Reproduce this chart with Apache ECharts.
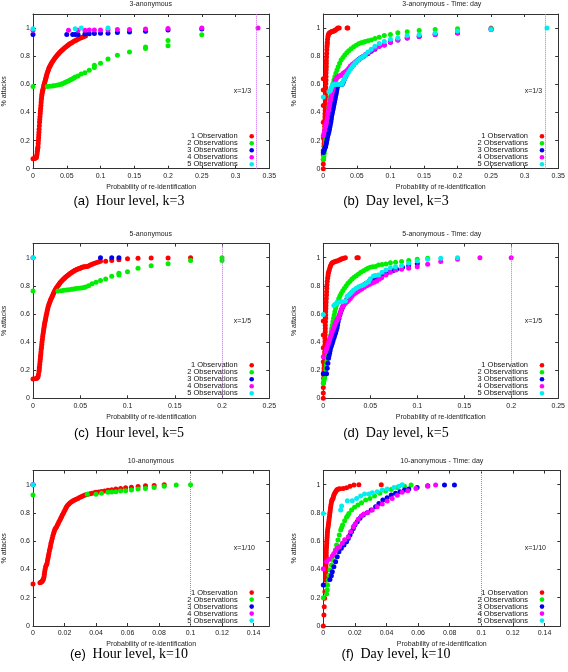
<!DOCTYPE html>
<html><head><meta charset="utf-8">
<script src="https://cdn.jsdelivr.net/npm/echarts@6/dist/echarts.min.js"></script>
<style>html,body{margin:0;padding:0;background:#fff}#c{width:568px;height:672px}</style>
</head><body><div id="c"></div>
<script>
const seriesNames = ['1 Observation','2 Observations','3 Observations','4 Observations','5 Observations'];
const colors = ['#ff0000','#00ee00','#0000ee','#ff00ff','#00eeee'];
const titles = ['3-anonymous','3-anonymous - Time: day','5-anonymous','5-anonymous - Time: day','10-anonymous','10-anonymous - Time: day'];
const captionTags = ['(a)','(b)','(c)','(d)','(e)','(f)'];
const captionTexts = ['Hour level, k=3','Day level, k=3','Hour level, k=5','Day level, k=5','Hour level, k=10','Day level, k=10'];
const xMax = [0.35,0.35,0.25,0.25,0.15,0.15];
const xInterval = [0.05,0.05,0.05,0.05,0.02,0.02];
const kLine = [1/3,1/3,1/5,1/5,1/10,1/10];
const kLabel = ['x=1/3','x=1/3','x=1/5','x=1/5','x=1/10','x=1/10'];
const yTicks = [0,0.2,0.4,0.6,0.8,1];

// (a) 3-anonymous, hour level
const a1 = [[0,0.071],[0.002,0.072],[0.003,0.075],[0.004,0.077],[0.005,0.08],[0.0055,0.09],[0.006,0.105],[0.0063,0.12],[0.0067,0.135],[0.007,0.145],[0.0074,0.156],[0.0077,0.18],[0.008,0.2],[0.0083,0.22],[0.0085,0.24],[0.0088,0.26],[0.009,0.28],[0.0094,0.305],[0.0097,0.33],[0.01,0.35],[0.0103,0.37],[0.0107,0.39],[0.011,0.41],[0.0113,0.43],[0.0117,0.45],[0.012,0.47],[0.0123,0.49],[0.0127,0.505],[0.013,0.52],[0.0134,0.533],[0.0138,0.545],[0.0143,0.555],[0.0148,0.565],[0.0154,0.578],[0.016,0.59],[0.0166,0.6],[0.0172,0.61],[0.0178,0.622],[0.0185,0.635],[0.0191,0.645],[0.0197,0.655],[0.0203,0.667],[0.021,0.678],[0.0218,0.69],[0.0226,0.70],[0.0233,0.71],[0.024,0.72],[0.025,0.729],[0.026,0.737],[0.027,0.746],[0.028,0.755],[0.0295,0.766],[0.031,0.777],[0.0325,0.787],[0.034,0.796],[0.0355,0.805],[0.037,0.813],[0.0385,0.821],[0.040,0.829],[0.0417,0.837],[0.0433,0.844],[0.045,0.852],[0.047,0.86],[0.049,0.867],[0.0507,0.874],[0.0523,0.88],[0.054,0.886],[0.056,0.892],[0.058,0.898],[0.06,0.904],[0.062,0.909],[0.0638,0.914],[0.0655,0.919],[0.067,0.923],[0.069,0.927],[0.071,0.931],[0.0729,0.934],[0.075,0.938],[0.0778,0.943]];
const a2 = [[0,0.585],[0.0212,0.585],[0.025,0.586],[0.029,0.588],[0.031,0.59],[0.035,0.593],[0.0384,0.597],[0.0415,0.600],[0.0433,0.604],[0.046,0.609],[0.048,0.614],[0.0505,0.62],[0.053,0.626],[0.0555,0.632],[0.058,0.637],[0.0605,0.645],[0.0625,0.652],[0.0667,0.66],[0.0714,0.673],[0.0769,0.682],[0.0833,0.70],[0.0909,0.72],[0.0909,0.735],[0.1,0.749],[0.1111,0.78],[0.125,0.806],[0.1429,0.829],[0.1667,0.855],[0.1667,0.865],[0.2,0.874],[0.2,0.912],[0.25,0.953]];
const a3 = [[0,0.955],[0.05,0.955],[0.0588,0.955],[0.0625,0.955],[0.0667,0.955],[0.0769,0.958],[0.0833,0.96],[0.0909,0.962],[0.1,0.963],[0.1111,0.964],[0.125,0.968],[0.1429,0.972],[0.1667,0.978],[0.2,0.986],[0.25,0.993]];
const a4 = [[0,0.985],[0.0526,0.985],[0.0667,0.985],[0.0769,0.985],[0.0833,0.986],[0.0909,0.986],[0.1,0.987],[0.1111,0.987],[0.125,0.989],[0.1429,0.99],[0.1667,0.993],[0.2,0.997],[0.25,1.0],[0.3333,1.0]];
const a5 = [[0,0.995],[0.0625,0.995],[0.0714,1.0],[0.1111,1.0]];

// (b) 3-anonymous, day level
const b1 = [[0,0],[0,0.033],[0,0.066],[0,0.1],[0,0.13],[0.0005,0.12],[0.001,0.16],[0.0012,0.18],[0.0015,0.2],[0,0.22],[0.0016,0.225],[0.0018,0.25],[0.0019,0.275],[0.002,0.3],[0,0.33],[0.0022,0.325],[0.0025,0.35],[0.0025,0.37],[0.0025,0.39],[0.0028,0.415],[0.003,0.44],[0,0.45],[0.003,0.465],[0.003,0.49],[0.0033,0.512],[0.0035,0.535],[0,0.56],[0.0035,0.558],[0.0035,0.58],[0.0038,0.605],[0.004,0.63],[0,0.64],[0.004,0.655],[0.004,0.68],[0.0043,0.703],[0.0045,0.725],[0.0045,0.748],[0.0045,0.77],[0.0048,0.795],[0.005,0.82],[0.0053,0.845],[0.0055,0.867],[0.0058,0.884],[0.006,0.90],[0.0064,0.92],[0.0069,0.94],[0.0076,0.952],[0.0084,0.962],[0.0096,0.966],[0.0108,0.97],[0.012,0.973],[0.0133,0.976],[0.0145,0.978],[0.0158,0.98],[0.017,0.983],[0.0182,0.986],[0.02,0.993],[0.0217,1.0],[0.0237,1.0],[0.0355,1.0],[0.0365,1.0]];
const b2 = [[0,0.066],[0.0008,0.088],[0.0015,0.11],[0.002,0.133],[0.0025,0.156],[0.003,0.178],[0.0035,0.2],[0.004,0.225],[0.0045,0.25],[0.005,0.275],[0.0054,0.3],[0.0059,0.323],[0.0064,0.346],[0.0069,0.368],[0.0074,0.39],[0.0079,0.415],[0.0084,0.44],[0.0091,0.465],[0.0099,0.49],[0.0106,0.512],[0.0113,0.535],[0.0123,0.558],[0.0133,0.58],[0.0145,0.605],[0.0158,0.63],[0.0172,0.654],[0.0187,0.678],[0.0204,0.702],[0.0222,0.725],[0.0244,0.75],[0.0266,0.773],[0.0293,0.79],[0.032,0.808],[0.035,0.824],[0.038,0.839],[0.0415,0.853],[0.0453,0.867],[0.049,0.878],[0.0527,0.889],[0.0563,0.895],[0.06,0.90],[0.0625,0.905],[0.0667,0.91],[0.0714,0.915],[0.0769,0.925],[0.0833,0.935],[0.0909,0.947],[0.1,0.955],[0.1111,0.967],[0.125,0.973],[0.1429,0.983],[0.1667,0.989],[0.2,0.995],[0.25,1.0]];
const b3 = [[0,0.116],[0.001,0.13],[0.0022,0.143],[0.0034,0.156],[0.0042,0.173],[0.0049,0.19],[0.0057,0.208],[0.0064,0.227],[0.0074,0.245],[0.0084,0.263],[0.0092,0.281],[0.0099,0.3],[0.0106,0.317],[0.0113,0.334],[0.0118,0.352],[0.0123,0.37],[0.013,0.388],[0.0138,0.405],[0.0146,0.422],[0.0153,0.44],[0.016,0.458],[0.0168,0.476],[0.0175,0.494],[0.0182,0.512],[0.019,0.53],[0.0197,0.547],[0.0202,0.562],[0.0207,0.578],[0.0215,0.588],[0.0222,0.595],[0.024,0.598],[0.0256,0.6],[0.0268,0.6],[0.0281,0.6],[0.029,0.61],[0.03,0.62],[0.0315,0.637],[0.033,0.654],[0.0343,0.667],[0.0355,0.68],[0.0378,0.695],[0.04,0.71],[0.0425,0.725],[0.045,0.74],[0.0477,0.753],[0.0503,0.765],[0.0527,0.776],[0.055,0.786],[0.0575,0.793],[0.06,0.80],[0.0625,0.808],[0.0667,0.82],[0.0714,0.835],[0.0769,0.85],[0.0833,0.87],[0.0909,0.88],[0.1,0.9],[0.1111,0.915],[0.125,0.93],[0.1429,0.94],[0.1667,0.955],[0.2,0.965],[0.25,0.99]];
const b4 = [[0,0.235],[0.001,0.25],[0.0022,0.275],[0.0034,0.3],[0.0042,0.317],[0.0049,0.334],[0.0059,0.362],[0.0069,0.39],[0.0079,0.415],[0.0089,0.44],[0.0098,0.465],[0.0108,0.49],[0.0118,0.512],[0.0128,0.535],[0.0138,0.552],[0.0148,0.57],[0.0158,0.588],[0.0167,0.607],[0.0175,0.618],[0.0182,0.63],[0.0195,0.64],[0.0207,0.65],[0.0223,0.655],[0.024,0.66],[0.0258,0.663],[0.0276,0.666],[0.0288,0.673],[0.03,0.68],[0.0328,0.69],[0.0355,0.70],[0.038,0.715],[0.0404,0.73],[0.0434,0.742],[0.0463,0.754],[0.0495,0.766],[0.0527,0.777],[0.0563,0.789],[0.06,0.80],[0.0625,0.81],[0.0667,0.823],[0.0714,0.84],[0.0769,0.855],[0.0833,0.87],[0.0909,0.88],[0.1,0.9],[0.1111,0.915],[0.125,0.93],[0.1429,0.94],[0.1667,0.955],[0.2,0.965],[0.25,0.995]];
const b5 = [[0,0.51],[0.0084,0.547],[0.0096,0.553],[0.0108,0.56],[0.012,0.575],[0.0133,0.59],[0.0145,0.597],[0.0158,0.6],[0.0178,0.6],[0.0197,0.6],[0.0217,0.6],[0.0236,0.6],[0.0256,0.6],[0.0276,0.6],[0.029,0.615],[0.0305,0.63],[0.0318,0.642],[0.033,0.654],[0.0355,0.672],[0.038,0.69],[0.0404,0.708],[0.0428,0.725],[0.0453,0.74],[0.0478,0.754],[0.0514,0.77],[0.055,0.784],[0.0588,0.796],[0.0625,0.808],[0.0667,0.83],[0.0714,0.85],[0.0769,0.87],[0.0833,0.891],[0.0909,0.905],[0.1,0.92],[0.1111,0.93],[0.125,0.947],[0.1429,0.953],[0.1667,0.965],[0.2,0.98],[0.25,0.99],[0.3333,1.0]];

// (c) 5-anonymous, hour level
const c1 = [[0,0.137],[0.003,0.14],[0.0039,0.142],[0.0046,0.147],[0.0053,0.154],[0.0058,0.17],[0.0063,0.19],[0.0066,0.205],[0.0068,0.22],[0.0071,0.24],[0.0074,0.26],[0.0077,0.278],[0.0079,0.295],[0.0082,0.312],[0.0084,0.33],[0.0087,0.348],[0.009,0.365],[0.0093,0.383],[0.0095,0.40],[0.0099,0.42],[0.0102,0.44],[0.0106,0.457],[0.011,0.474],[0.0113,0.49],[0.0117,0.505],[0.012,0.52],[0.0123,0.533],[0.0128,0.547],[0.0132,0.56],[0.0136,0.575],[0.014,0.59],[0.0145,0.605],[0.015,0.62],[0.0155,0.635],[0.016,0.65],[0.0166,0.663],[0.0173,0.675],[0.018,0.688],[0.0186,0.70],[0.0193,0.71],[0.02,0.72],[0.0207,0.731],[0.0214,0.742],[0.022,0.751],[0.0227,0.76],[0.0233,0.768],[0.024,0.777],[0.0248,0.786],[0.0257,0.794],[0.0265,0.802],[0.0274,0.81],[0.0282,0.818],[0.029,0.825],[0.03,0.832],[0.031,0.839],[0.032,0.846],[0.033,0.852],[0.034,0.859],[0.035,0.865],[0.0362,0.871],[0.0374,0.877],[0.0385,0.883],[0.0397,0.889],[0.0408,0.894],[0.042,0.899],[0.043,0.904],[0.044,0.908],[0.0452,0.912],[0.0463,0.915],[0.0474,0.919],[0.0485,0.922],[0.0497,0.925],[0.051,0.928],[0.052,0.931],[0.053,0.934],[0.0543,0.935],[0.0556,0.936],[0.0571,0.938],[0.0588,0.94],[0.0606,0.947],[0.0625,0.953],[0.0645,0.958],[0.0667,0.964],[0.069,0.969],[0.0714,0.974],[0.0769,0.974],[0.0833,0.979],[0.0909,0.986],[0.1,0.993],[0.1111,0.995],[0.125,0.998],[0.1429,0.998],[0.1667,1.0]];
const c2 = [[0,0.763],[0.0264,0.763],[0.03,0.765],[0.0327,0.768],[0.0357,0.770],[0.038,0.772],[0.041,0.775],[0.043,0.777],[0.0455,0.780],[0.0485,0.782],[0.051,0.785],[0.0538,0.787],[0.0556,0.792],[0.0588,0.80],[0.0625,0.815],[0.0667,0.826],[0.0714,0.838],[0.0769,0.848],[0.0833,0.867],[0.0909,0.877],[0.0909,0.889],[0.1,0.9],[0.1111,0.924],[0.125,0.943],[0.1429,0.957],[0.1667,0.979],[0.2,0.979],[0.2,1.0]];
const c3 = [[0.0714,1.0],[0.0833,1.0],[0.0909,1.0]];
const c4 = [[0,1.0]];
const c5 = [[0,1.0]];

// (d) 5-anonymous, day level
const d1 = [[0,0],[0,0.038],[0,0.076],[0.0002,0.11],[0.0004,0.142],[0.0005,0.166],[0.0007,0.19],[0.0008,0.213],[0.001,0.237],[0,0.26],[0.0012,0.26],[0.0014,0.284],[0.0014,0.307],[0.0014,0.33],[0,0.36],[0.0016,0.355],[0.0018,0.38],[0.0018,0.403],[0.0018,0.427],[0,0.45],[0.002,0.45],[0.0021,0.474],[0.0021,0.497],[0.0021,0.52],[0,0.55],[0.0023,0.545],[0.0025,0.569],[0.0025,0.592],[0.0025,0.616],[0.0027,0.638],[0.0028,0.66],[0.003,0.685],[0.0032,0.71],[0.0034,0.734],[0.0035,0.758],[0.0037,0.782],[0.0039,0.806],[0.0042,0.83],[0.0046,0.853],[0.005,0.872],[0.0053,0.889],[0.0058,0.9],[0.0063,0.912],[0.007,0.928],[0.0077,0.943],[0.0086,0.955],[0.0095,0.964],[0.0107,0.968],[0.0119,0.971],[0.0133,0.974],[0.0147,0.976],[0.0165,0.981],[0.0178,0.986],[0.019,0.99],[0.0204,0.993],[0.0218,0.995],[0.0235,1.0],[0.0358,1.0],[0.0372,1.0]];
const d2 = [[0,0.107],[0.0007,0.125],[0.0014,0.142],[0.002,0.166],[0.0025,0.19],[0.0028,0.213],[0.0032,0.237],[0.0037,0.26],[0.0042,0.284],[0.0047,0.307],[0.0053,0.33],[0.0058,0.355],[0.0063,0.38],[0.0068,0.403],[0.0074,0.427],[0.0079,0.45],[0.0084,0.474],[0.0089,0.497],[0.0095,0.52],[0.0102,0.545],[0.0109,0.569],[0.0116,0.592],[0.0123,0.616],[0.0131,0.64],[0.014,0.664],[0.0152,0.687],[0.0165,0.71],[0.0177,0.728],[0.019,0.746],[0.0207,0.764],[0.0225,0.782],[0.0244,0.8],[0.0263,0.818],[0.0284,0.833],[0.0305,0.848],[0.0328,0.86],[0.035,0.872],[0.0375,0.884],[0.04,0.896],[0.0428,0.907],[0.0456,0.917],[0.0476,0.924],[0.05,0.931],[0.0526,0.935],[0.0556,0.938],[0.0588,0.948],[0.0625,0.952],[0.0667,0.955],[0.0714,0.964],[0.0769,0.968],[0.0833,0.972],[0.0909,0.979],[0.1,0.988],[0.1111,0.995]];
const d3 = [[0,0.175],[0.0035,0.175],[0.0042,0.213],[0.0049,0.249],[0.0056,0.284],[0.0061,0.302],[0.0067,0.32],[0.0072,0.338],[0.0077,0.355],[0.0086,0.372],[0.0095,0.39],[0.0103,0.408],[0.0112,0.427],[0.0121,0.445],[0.013,0.462],[0.0138,0.482],[0.0147,0.502],[0.0152,0.523],[0.0158,0.545],[0.0167,0.568],[0.0176,0.592],[0.0184,0.61],[0.0193,0.628],[0.0205,0.646],[0.0218,0.664],[0.0232,0.682],[0.0246,0.699],[0.0258,0.715],[0.027,0.73],[0.0288,0.741],[0.0305,0.751],[0.0328,0.76],[0.035,0.77],[0.0375,0.782],[0.04,0.794],[0.0428,0.806],[0.0456,0.818],[0.0486,0.83],[0.0516,0.841],[0.0543,0.85],[0.0569,0.858],[0.0604,0.87],[0.0639,0.882],[0.0674,0.891],[0.0709,0.9],[0.0745,0.909],[0.078,0.917],[0.0843,0.931],[0.0909,0.943],[0.1,0.957]];
const d4 = [[0,0.295],[0.0025,0.33],[0.0034,0.348],[0.0042,0.367],[0.0051,0.385],[0.006,0.403],[0.0068,0.42],[0.0077,0.438],[0.0086,0.456],[0.0095,0.474],[0.0103,0.488],[0.0112,0.502],[0.0121,0.518],[0.013,0.533],[0.0138,0.545],[0.0147,0.557],[0.0156,0.568],[0.0165,0.58],[0.0174,0.598],[0.0183,0.616],[0.0191,0.63],[0.02,0.645],[0.0209,0.655],[0.0218,0.664],[0.0235,0.676],[0.0253,0.687],[0.027,0.698],[0.0288,0.71],[0.0305,0.725],[0.0323,0.739],[0.0344,0.748],[0.0365,0.758],[0.0388,0.768],[0.041,0.777],[0.0437,0.789],[0.0463,0.80],[0.049,0.809],[0.0516,0.818],[0.0543,0.826],[0.0569,0.834],[0.0595,0.846],[0.0621,0.858],[0.0667,0.877],[0.0714,0.896],[0.0769,0.912],[0.0833,0.918],[0.0909,0.924],[0.1,0.936],[0.1111,0.953],[0.125,0.972],[0.1429,0.988],[0.1667,1.0],[0.2,1.0]];
const d5 = [[0,0.595],[0.0112,0.659],[0.013,0.67],[0.0147,0.68],[0.0175,0.684],[0.02,0.687],[0.0235,0.692],[0.0253,0.723],[0.027,0.735],[0.0288,0.746],[0.0305,0.758],[0.0323,0.77],[0.035,0.782],[0.0376,0.794],[0.0402,0.8],[0.0428,0.806],[0.0455,0.818],[0.0481,0.829],[0.05,0.85],[0.0534,0.87],[0.0556,0.874],[0.0588,0.877],[0.0625,0.896],[0.0667,0.912],[0.0714,0.929],[0.0769,0.936],[0.0833,0.943],[0.0909,0.96],[0.1,0.976],[0.1111,0.988],[0.125,0.995],[0.1429,1.0]];

// (e) 10-anonymous, hour level
const e1 = [[0,0.297],[0.0044,0.307],[0.005,0.31],[0.0055,0.314],[0.0059,0.318],[0.0063,0.325],[0.0067,0.335],[0.007,0.349],[0.0072,0.366],[0.0074,0.384],[0.0077,0.402],[0.008,0.42],[0.0085,0.432],[0.0089,0.443],[0.0092,0.461],[0.0095,0.479],[0.0098,0.497],[0.0101,0.514],[0.0104,0.532],[0.0108,0.55],[0.0111,0.567],[0.0114,0.585],[0.0118,0.602],[0.0122,0.62],[0.0126,0.638],[0.0131,0.656],[0.0135,0.67],[0.0139,0.684],[0.0144,0.694],[0.015,0.703],[0.0155,0.715],[0.016,0.726],[0.0165,0.738],[0.0171,0.75],[0.0176,0.762],[0.0181,0.774],[0.0186,0.786],[0.0192,0.797],[0.0197,0.809],[0.0203,0.821],[0.0208,0.833],[0.0213,0.844],[0.022,0.854],[0.0228,0.863],[0.0236,0.872],[0.0245,0.88],[0.0254,0.886],[0.0264,0.892],[0.0274,0.898],[0.0285,0.903],[0.0295,0.909],[0.0306,0.915],[0.0316,0.92],[0.0327,0.925],[0.0337,0.929],[0.0348,0.932],[0.0362,0.936],[0.0376,0.939],[0.039,0.943],[0.04,0.946],[0.0417,0.948],[0.0435,0.952],[0.0455,0.955],[0.0476,0.961],[0.05,0.965],[0.0526,0.97],[0.0556,0.974],[0.0588,0.979],[0.0625,0.983],[0.0667,0.988],[0.0714,0.993],[0.0769,0.995],[0.0833,1.0]];
const e2 = [[0,0.927],[0.0345,0.932],[0.04,0.932],[0.0435,0.939],[0.0476,0.946],[0.05,0.948],[0.0526,0.95],[0.0556,0.955],[0.0588,0.958],[0.0625,0.962],[0.0667,0.969],[0.0714,0.974],[0.0769,0.981],[0.0833,0.99],[0.0909,0.998],[0.1,1.0]];
const e3 = [[0,1.0]];
const e4 = [[0,1.0]];
const e5 = [[0,1.0]];

// (f) 10-anonymous, day level
const f1 = [[0,0],[0.0004,0.078],[0.0006,0.137],[0.0008,0.196],[0.001,0.243],[0.0013,0.29],[0.0015,0.325],[0.0015,0.35],[0.0015,0.373],[0.0017,0.395],[0.0017,0.415],[0.0017,0.435],[0.0017,0.455],[0.0019,0.475],[0.0019,0.495],[0.0019,0.517],[0.0019,0.538],[0.002,0.556],[0.0021,0.573],[0.0022,0.59],[0.0023,0.608],[0.0024,0.626],[0.0025,0.644],[0.0026,0.662],[0.0027,0.679],[0.003,0.697],[0.0032,0.715],[0.0034,0.733],[0.0036,0.75],[0.0038,0.768],[0.004,0.785],[0.0042,0.803],[0.0044,0.821],[0.0046,0.839],[0.0048,0.856],[0.0051,0.872],[0.0053,0.887],[0.0057,0.895],[0.0061,0.903],[0.0064,0.915],[0.0067,0.927],[0.0072,0.94],[0.0078,0.95],[0.0083,0.96],[0.0088,0.967],[0.0097,0.97],[0.0105,0.972],[0.0126,0.974],[0.0147,0.979],[0.0169,0.99],[0.0194,0.998],[0.0225,1.0],[0.0367,1.0]];
const f2 = [[0,0.2],[0.0021,0.226],[0.0025,0.255],[0.0027,0.29],[0.0032,0.325],[0.0036,0.36],[0.0042,0.396],[0.0051,0.432],[0.0059,0.467],[0.0067,0.502],[0.0076,0.538],[0.0084,0.573],[0.0093,0.608],[0.0101,0.644],[0.011,0.679],[0.0116,0.697],[0.0122,0.715],[0.0135,0.745],[0.0147,0.769],[0.0155,0.783],[0.0162,0.797],[0.0179,0.821],[0.0198,0.84],[0.0219,0.856],[0.0242,0.873],[0.0268,0.892],[0.0295,0.903],[0.0324,0.92],[0.0358,0.939],[0.0394,0.955],[0.043,0.967],[0.0468,0.981],[0.0514,0.99],[0.0556,0.998]];
const f3 = [[0,0.29],[0.0042,0.33],[0.0051,0.356],[0.0057,0.384],[0.0067,0.42],[0.0078,0.455],[0.0088,0.49],[0.0099,0.526],[0.0114,0.55],[0.0131,0.573],[0.0147,0.597],[0.0158,0.62],[0.0169,0.644],[0.0179,0.668],[0.019,0.691],[0.02,0.715],[0.0215,0.738],[0.0232,0.762],[0.0253,0.785],[0.0278,0.802],[0.0303,0.821],[0.0331,0.844],[0.0352,0.868],[0.0377,0.892],[0.0404,0.908],[0.043,0.927],[0.0457,0.939],[0.0485,0.95],[0.0514,0.962],[0.0541,0.969],[0.0594,0.981],[0.0661,0.993],[0.0767,0.998],[0.083,0.998]];
const f4 = [[0,0.406],[0.0021,0.455],[0.0036,0.472],[0.0057,0.495],[0.0067,0.514],[0.0078,0.533],[0.0088,0.55],[0.0103,0.561],[0.012,0.585],[0.0135,0.61],[0.0158,0.632],[0.0173,0.668],[0.019,0.703],[0.0204,0.726],[0.0221,0.755],[0.024,0.778],[0.0257,0.792],[0.0282,0.804],[0.031,0.821],[0.0341,0.844],[0.0373,0.863],[0.0404,0.884],[0.0436,0.903],[0.0468,0.925],[0.0499,0.946],[0.0535,0.958],[0.0586,0.974],[0.0661,0.99],[0.0711,0.998]];
const f5 = [[0,0.797],[0.011,0.821],[0.0116,0.849],[0.0152,0.887],[0.0183,0.887],[0.0211,0.903],[0.0236,0.92],[0.0261,0.934],[0.0289,0.934],[0.031,0.943],[0.0341,0.95],[0.0373,0.962],[0.0404,0.969],[0.0447,0.981],[0.0478,0.99],[0.0499,1.0]];

const panelData = [[a1,a2,a3,a4,a5],[b1,b2,b3,b4,b5],[c1,c2,c3,c4,c5],[d1,d2,d3,d4,d5],[e1,e2,e3,e4,e5],[f1,f2,f3,f4,f5]];

// ---- layout ----
const colLeft = [32.3, 323.3];
const gridW = 237;
const rowTop = [14, 243.6, 470.6];
const rowH = [154.7, 154.7, 155.4];
const captionY = [201, 433, 654];
const captionX = [129, 396];
const legendTop = [132.3, 361.3, 588.6];
const legendRight = [314, 23.7];
const yNameGap = [25, 26];
const FONT = 'Liberation Sans, Arial, sans-serif';
const axisColor = '#333';

const grid = [], xAxis = [], yAxis = [], series = [], legend = [], graphic = [];
for (let i = 0; i < 6; i++) {
  const col = i % 2, row = Math.floor(i / 2);
  const left = colLeft[col], top = rowTop[row], h = rowH[row];
  grid.push({left: left, top: top, width: gridW, height: h, containLabel: false});
  const tick = {show: true, inside: true, length: 3, lineStyle: {color: axisColor, width: 1}};
  const line = {show: true, onZero: false, lineStyle: {color: axisColor, width: 1}};
  xAxis.push({
    type: 'value', gridIndex: i, position: 'bottom', min: 0, max: xMax[i], interval: xInterval[i],
    axisLine: line, axisTick: tick, splitLine: {show: false},
    axisLabel: {fontSize: 7, color: '#222', fontFamily: FONT, margin: 4, showMaxLabel: xMax[i] !== 0.15},
    name: 'Probability of re-identification', nameLocation: 'middle', nameGap: 15,
    nameTextStyle: {fontSize: 7, color: '#222', fontFamily: FONT}
  });
  xAxis.push({
    type: 'value', gridIndex: i, position: 'top', min: 0, max: xMax[i], interval: xInterval[i],
    axisLine: line, axisTick: tick, splitLine: {show: false}, axisLabel: {show: false}
  });
  yAxis.push({
    type: 'value', gridIndex: i, position: 'left', min: 0, max: 1.1, interval: 0.2,
    axisLine: line, axisTick: tick, splitLine: {show: false},
    axisLabel: {fontSize: 7, color: '#222', fontFamily: FONT, margin: 3, showMaxLabel: false,
      formatter: v => yTicks.indexOf(Math.round(v * 10) / 10) >= 0 ? String(Math.round(v * 10) / 10) : ''},
    name: '% attacks', nameLocation: 'middle', nameRotate: 90, nameGap: yNameGap[col],
    nameTextStyle: {fontSize: 7, color: '#222', fontFamily: FONT}
  });
  yAxis.push({
    type: 'value', gridIndex: i, position: 'right', min: 0, max: 1.1, interval: 0.2,
    axisLine: line, axisTick: tick, splitLine: {show: false}, axisLabel: {show: false}
  });
  panelData[i].forEach((d, s) => {
    const ser = {
      type: 'scatter', name: seriesNames[s], xAxisIndex: 2 * i, yAxisIndex: 2 * i,
      data: d, symbol: 'circle', symbolSize: 5,
      itemStyle: {color: colors[s], opacity: 1}, emphasis: {disabled: true}, animation: false
    };
    if (s === 0) {
      ser.markLine = {
        silent: true, symbol: ['none', 'none'], animation: false,
        label: {show: false},
        lineStyle: {color: '#cc66ee', type: 'dotted', width: 1},
        data: [{xAxis: kLine[i]}]
      };
    }
    series.push(ser);
  });
  legend.push({
    orient: 'vertical', align: 'right', right: legendRight[col], top: legendTop[row],
    itemWidth: 18, itemHeight: 4.6, itemGap: -1, padding: 0, icon: 'circle', selectedMode: false,
    textStyle: {fontSize: 7.5, lineHeight: 7, color: '#111', fontFamily: FONT},
    data: seriesNames
  });
  graphic.push({type: 'text', x: left + gridW / 2, y: top - 10,
    style: {text: titles[i], align: 'center', verticalAlign: 'middle', fontSize: 7, fill: '#222', fontFamily: FONT}});
  graphic.push({type: 'text', x: left + 0.85 * gridW, y: top + 0.5 * h,
    style: {text: kLabel[i], align: 'left', verticalAlign: 'middle', fontSize: 7, fill: '#222', fontFamily: FONT}});
  graphic.push({type: 'text', x: captionX[col], y: captionY[row],
    style: {text: '{t|' + captionTags[i] + '}  {c|' + captionTexts[i] + '}', align: 'center', verticalAlign: 'middle',
      rich: {t: {fontSize: 13, fontFamily: FONT, fill: '#000'}, c: {fontSize: 14, fontFamily: 'Liberation Serif, DejaVu Serif, serif', fill: '#000'}}}});
}

const chart = echarts.init(document.getElementById('c'), null, {renderer: 'canvas'});
chart.setOption({animation: false, backgroundColor: '#fff', grid, xAxis, yAxis, series, legend, graphic});
</script></body></html>
